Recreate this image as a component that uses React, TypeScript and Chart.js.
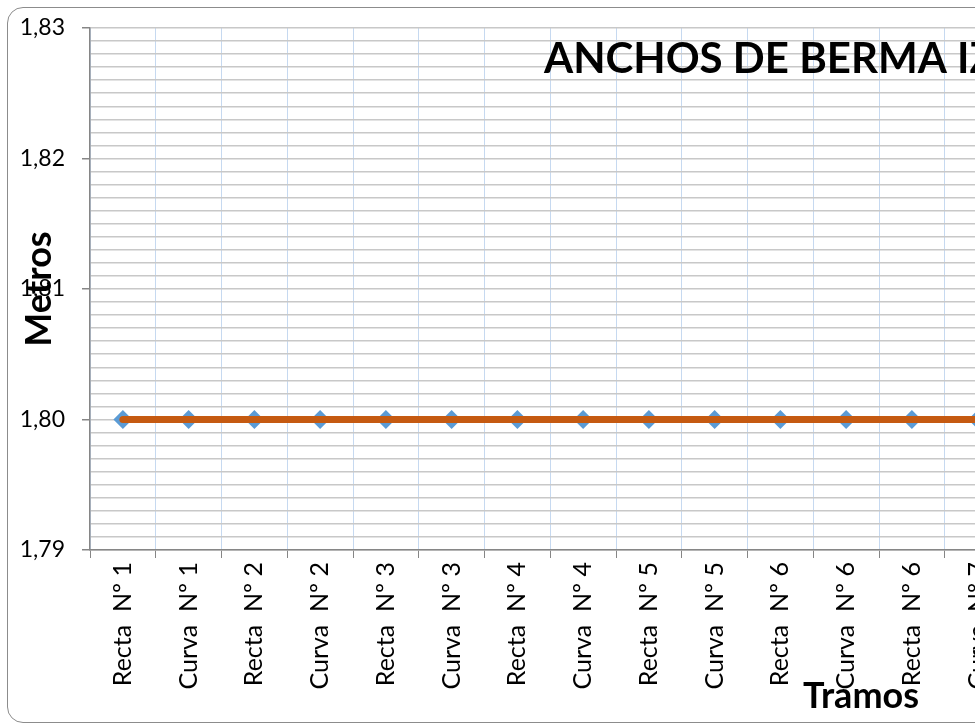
import React, { useEffect, useRef } from "react";
import { Chart, registerables } from "chart.js";

Chart.register(...registerables);

const categories = [
  "Recta  Nº 1", "Curva  Nº 1", "Recta  Nº 2", "Curva  Nº 2", "Recta  Nº 3", "Curva  Nº 3",
  "Recta  Nº 4", "Curva  Nº 4", "Recta  Nº 5", "Curva  Nº 5", "Recta  Nº 6", "Curva  Nº 6",
  "Recta  Nº 6", "Curva  Nº 7", "Recta  Nº 8", "Curva  Nº 8", "Recta  Nº 9", "Curva  Nº 9",
  "Recta  Nº 10", "Curva  Nº 10", "Recta  Nº 11", "Curva  Nº 11", "Recta  Nº 12", "Curva  Nº 12",
];

const anchoBerma = [
  1.8, 1.8, 1.8, 1.8, 1.8, 1.8, 1.8, 1.8, 1.8, 1.8, 1.8, 1.8,
  1.8, 1.8, 1.8, 1.8, 1.8, 1.8, 1.8, 1.8, 1.8, 1.8, 1.8, 1.8,
];

const anchoNorma = [
  1.8, 1.8, 1.8, 1.8, 1.8, 1.8, 1.8, 1.8, 1.8, 1.8, 1.8, 1.8,
  1.8, 1.8, 1.8, 1.8, 1.8, 1.8, 1.8, 1.8, 1.8, 1.8, 1.8, 1.8,
];

const yMin = 1.79;
const yMax = 1.83;
const yStep = 0.001;

const chartTitle = "ANCHOS DE BERMA IZQUIERDA";
const xTitle = "Tramos";
const yTitle = "Metros";

const FONT = "Lato, 'Noto Sans', sans-serif";
const CW = 1680;
const CH = 714;

const isMajor = (v: number) => Math.round(v * 1000) % 10 === 0;

export default function App() {
  const ref = useRef<HTMLCanvasElement>(null);

  useEffect(() => {
    const titles = {
      id: "titles",
      afterDraw(chart: any) {
        const ctx = chart.ctx as CanvasRenderingContext2D;
        ctx.save();
        ctx.fillStyle = "#000";
        ctx.font = `bold 42px ${FONT}`;
        ctx.textAlign = "left";
        ctx.textBaseline = "alphabetic";
        ctx.fillText(chartTitle, 536, 65);
        ctx.font = `bold 36px ${FONT}`;
        ctx.textAlign = "center";
        ctx.fillText(xTitle, 853, 700);
        ctx.translate(31, 281);
        ctx.rotate(-Math.PI / 2);
        ctx.textBaseline = "middle";
        ctx.fillText(yTitle, 0, 0);
        ctx.restore();
      },
    };

    const chart = new Chart(ref.current!, {
      type: "line",
      data: {
        labels: categories,
        datasets: [
          {
            label: "Norma",
            data: anchoNorma,
            borderColor: "#c55a11",
            backgroundColor: "#c55a11",
            borderWidth: 7,
            borderCapStyle: "round",
            pointRadius: 0,
            order: 0,
          },
          {
            label: "Ancho de berma",
            data: anchoBerma,
            showLine: false,
            pointStyle: "rectRot",
            pointRadius: 9.5,
            backgroundColor: "#5b9bd5",
            borderColor: "#5b9bd5",
            borderWidth: 0,
            order: 1,
          },
        ],
      },
      options: {
        responsive: false,
        animation: false,
        layout: { padding: { top: 20, right: 20, left: 0, bottom: 0 } },
        plugins: {
          legend: { display: false },
          title: { display: false },
          tooltip: { enabled: false },
        },
        scales: {
          x: {
            offset: true,
            grid: {
              offset: true,
              color: "#c6d9f0",
              lineWidth: 1,
              tickColor: "#868686",
              tickLength: 8,
            },
            border: { color: "#868686", width: 1.5 },
            ticks: {
              minRotation: 90,
              maxRotation: 90,
              autoSkip: false,
              padding: 4,
              color: "#000",
              font: { family: FONT, size: 25 },
            },
            afterFit: (s: any) => {
              s.height = 172;
              s.paddingLeft = 0;
              s.paddingRight = 0;
            },
          },
          y: {
            min: yMin,
            max: yMax,
            ticks: {
              stepSize: yStep,
              autoSkip: false,
              padding: 17,
              color: "#000",
              font: { family: FONT, size: 23 },
              callback: (v: any) => {
                const n = Number(v);
                return isMajor(n) ? n.toFixed(2).replace(".", ",") : "";
              },
            },
            grid: {
              color: "#c8c8c8",
              lineWidth: 1.5,
              tickLength: 8,
              tickColor: (ctx: any) =>
                ctx.tick && isMajor(ctx.tick.value) ? "#868686" : "rgba(0,0,0,0)",
            },
            border: { color: "#868686", width: 1.5 },
            afterFit: (s: any) => {
              s.width = 82;
              s.paddingTop = 0;
              s.paddingBottom = 0;
            },
          },
        },
      } as any,
      plugins: [titles],
    });
    return () => chart.destroy();
  }, []);

  return (
    <div
      style={{
        position: "fixed",
        left: 0,
        top: 0,
        width: 975,
        height: 726,
        overflow: "hidden",
        background: "#fff",
      }}
    >
      <div
        style={{
          position: "absolute",
          left: 7,
          top: 7,
          width: CW + 2,
          height: CH + 2,
          border: "1px solid #8c8c8c",
          borderRadius: 16,
          boxSizing: "border-box",
          overflow: "hidden",
          background: "#fff",
        }}
      >
        <canvas ref={ref} width={CW} height={CH} style={{ display: "block" }} />
      </div>
    </div>
  );
}
